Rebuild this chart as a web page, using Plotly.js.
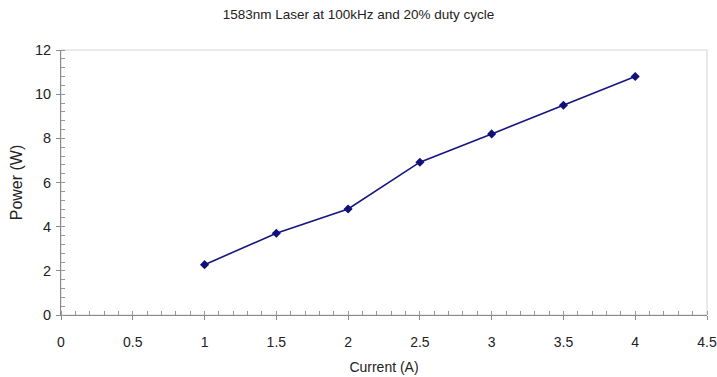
<!DOCTYPE html>
<html><head><meta charset="utf-8">
<script src="https://cdn.plot.ly/plotly-3.0.1.min.js"></script>
<style>html,body{margin:0;padding:0;background:#fff}</style>
</head><body>
<div id="chart" style="width:717px;height:377px"></div>
<script>
const current = [1, 1.5, 2, 2.5, 3, 3.5, 4];
const power = [2.28, 3.7, 4.8, 6.92, 8.2, 9.5, 10.8];
const titleText = "1583nm Laser at 100kHz and 20% duty cycle";
const xTitle = "Current (A)";
const yTitle = "Power (W)";

const trace = {
  x: current, y: power, type: 'scatter', mode: 'lines+markers',
  line: {color: '#161680', width: 1.6},
  marker: {symbol: 'diamond', size: 7, color: '#101078'},
  hoverinfo: 'skip', cliponaxis: false
};
const fam = 'Liberation Sans, Arial, sans-serif';
const txt = '#222';
const layout = {
  width: 717, height: 377,
  margin: {l: 61, r: 10, t: 50, b: 62},
  paper_bgcolor: '#fff', plot_bgcolor: '#fff',
  showlegend: false,
  font: {family: fam, color: txt},
  title: {text: titleText, font: {size: 13.5, family: fam, color: txt}, x: 0.5, xanchor: 'center', y: 0.962, yanchor: 'middle'},
  xaxis: {
    range: [0, 4.5], dtick: 0.5, tick0: 0, showgrid: false, zeroline: false,
    showline: true, linecolor: '#8a8a8a', linewidth: 1,
    ticks: 'outside', ticklen: 4, tickcolor: '#8a8a8a',
    minor: {dtick: 0.1, ticks: 'inside', ticklen: 4, tickcolor: '#9a9a9a', showgrid: false},
    tickfont: {size: 14, color: txt}, ticklabelstandoff: 10, ticklabeloverflow: 'allow',
    title: {text: xTitle, font: {size: 14, color: txt}, standoff: 13}
  },
  yaxis: {
    range: [0, 12], dtick: 2, tick0: 0, showgrid: false, zeroline: false,
    showline: true, linecolor: '#8a8a8a', linewidth: 1,
    ticks: 'outside', ticklen: 4, tickcolor: '#8a8a8a',
    minor: {dtick: 0.4, ticks: 'inside', ticklen: 4, tickcolor: '#9a9a9a', showgrid: false},
    tickfont: {size: 14.5, color: txt}, ticklabelstandoff: 2,
    title: {text: yTitle, font: {size: 16, color: txt}, standoff: 8}
  },
  shapes: [{type: 'rect', xref: 'paper', yref: 'paper', x0: 0, x1: 1, y0: 0, y1: 1,
    line: {color: '#d4d4d4', width: 1}, layer: 'below'}]
};
Plotly.newPlot('chart', [trace], layout, {displayModeBar: false, staticPlot: true});
</script>
</body></html>
